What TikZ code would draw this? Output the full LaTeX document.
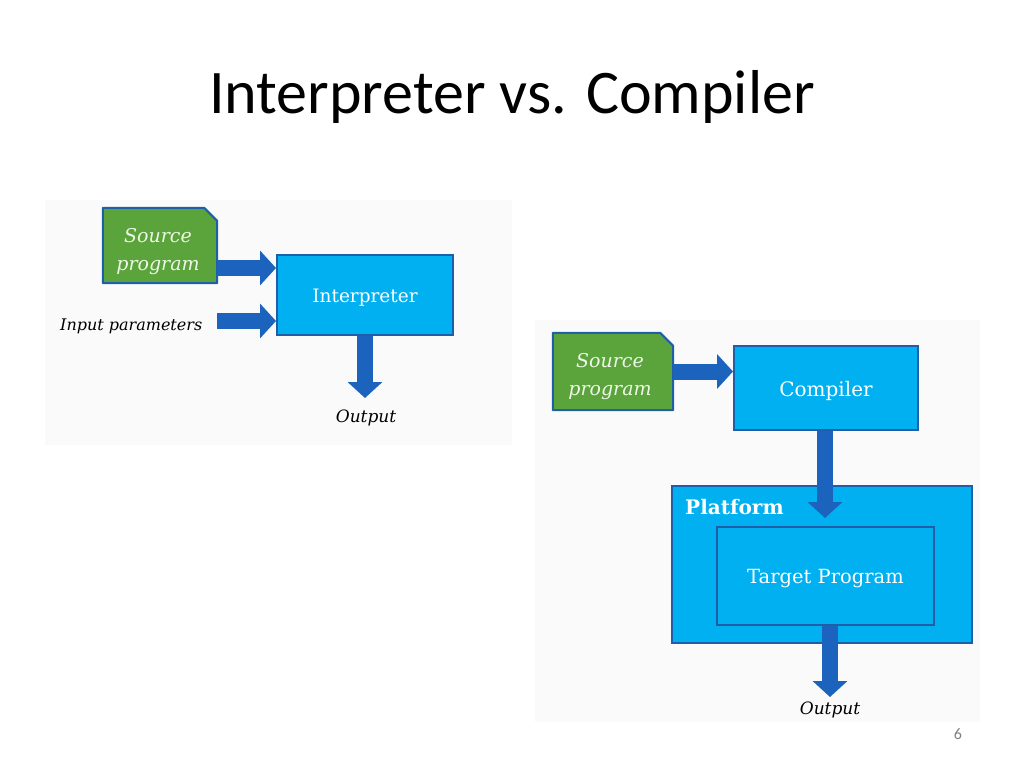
\documentclass[tikz,border=0pt]{standalone}
\usepackage{fontspec}
\setmainfont{DejaVu Serif}
\newfontfamily\titlefont{Carlito}
\usetikzlibrary{arrows.meta}
\definecolor{cyanbox}{HTML}{00B0F0}
\definecolor{boxedge}{HTML}{1F5FA8}
\definecolor{arrowblue}{HTML}{1B63BC}
\definecolor{srcgreen}{HTML}{5BA43C}
\definecolor{srctext}{HTML}{EEF7E6}
\definecolor{panel}{HTML}{FAFAFA}
\tikzset{
  box/.style={draw=boxedge, line width=2pt, fill=cyanbox, inner sep=0pt},
  boxlbl/.style={text=white, inner sep=0pt},
  srcshape/.style={draw=boxedge, line width=2pt, fill=srcgreen, line join=round},
  srctxt/.style={font=\fontsize{19}{28}\selectfont\itshape, text=srctext, align=center},
  blockarrow/.style={draw=arrowblue, line width=16pt,
     -{Triangle[width=34pt,length=16pt]}},
  lbl/.style={font=\fontsize{17}{19}\selectfont\itshape, text=black, inner sep=0pt},
}
\begin{document}
\begin{tikzpicture}[x=1pt,y=-1pt]
\useasboundingbox[fill=white] (0,0) rectangle (1024,768);
% panels
\fill[panel] (45,200) rectangle (512,445);
\fill[panel] (535,320) rectangle (980,722);
% title
\node[font=\titlefont\fontsize{62}{66}\selectfont, text=black] (title) at (512,97) {Interpreter vs. Compiler};
% ---- interpreter
\node[minimum width=114pt, minimum height=75pt, inner sep=0pt] (src1) at (160,245.5) {};
\draw[srcshape] (src1.south west) -- (src1.north west) -- ([xshift=-13pt]src1.north east)
   -- ([yshift=-13pt]src1.north east) -- (src1.south east) -- cycle;
\node[srctxt] (src1t) at (158,252) {Source\\program};
\node[box, minimum width=176pt, minimum height=80pt] (interp) at (365,295) {};
\node[boxlbl, font=\fontsize{18.5}{20}\selectfont] (interpT) at ([yshift=-3pt]interp.center) {Interpreter};
\node[lbl, anchor=west, font=\fontsize{16}{18}\selectfont\itshape] (inp) at (60,326) {Input parameters};
\coordinate (inpstart) at (217,321);
\coordinate (srcstart) at (src1.east |- 0,268);
\draw[blockarrow] (srcstart) -- (interp.west |- srcstart);
\draw[blockarrow] (inpstart) -- (interp.west |- inpstart);
\node[lbl] (out1) at (366,418) {Output};
\coordinate (o1tip) at (365,398);
\draw[blockarrow] (interp.south -| o1tip) -- (o1tip);
% ---- compiler
\node[minimum width=120pt, minimum height=77pt, inner sep=0pt] (src2) at (613,371.5) {};
\draw[srcshape] (src2.south west) -- (src2.north west) -- ([xshift=-13pt]src2.north east)
   -- ([yshift=-13pt]src2.north east) -- (src2.south east) -- cycle;
\node[srctxt] (src2t) at (610,377) {Source\\program};
\node[box, minimum width=184pt, minimum height=84pt] (comp) at (826,388) {};
\node[boxlbl, font=\fontsize{20}{22}\selectfont] (compT) at ([yshift=-3pt]comp.center) {Compiler};
\draw[blockarrow] (src2.east |- 0,371.5) -- (comp.west |- 0,371.5);
\node[box, minimum width=300pt, minimum height=157pt] (plat) at (822,564.5) {};
\node[boxlbl, font=\fontsize{20}{22}\selectfont\bfseries, anchor=west] (platlbl) at (685,507) {Platform};
\node[box, minimum width=217pt, minimum height=98pt] (target) at (825.5,576) {};
\node[boxlbl, font=\fontsize{19.5}{22}\selectfont] (targetT) at ([yshift=-3pt]target.center) {Target Program};
\coordinate (c2tip) at (825,518);
\draw[blockarrow] (comp.south -| c2tip) -- (c2tip);
\coordinate (o2tip) at (830,697);
\draw[blockarrow] (target.south -| o2tip) -- (o2tip);
\node[lbl] (out2) at (830,710) {Output};
% page number
\node[font=\titlefont\fontsize{16}{18}\selectfont, text=gray] (pg) at (958,734) {6};
\end{tikzpicture}
\end{document}
